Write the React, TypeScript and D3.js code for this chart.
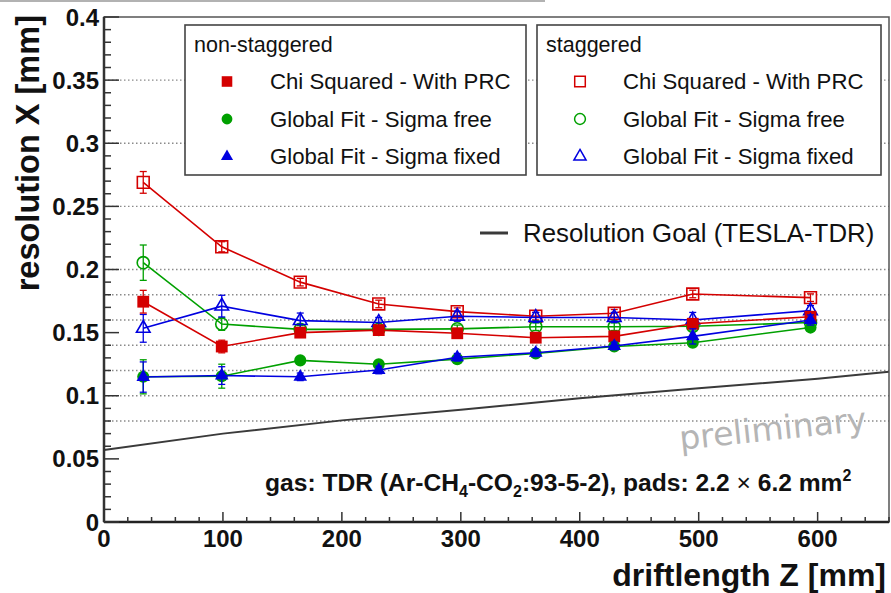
import React, { useRef, useEffect } from "react";
import { select, scaleLinear, line, symbol, symbolSquare, symbolCircle, symbolTriangle, range } from "d3";

const W = 891;
const H = 593;

// drift length positions [mm]
const driftZ = [33, 99, 165, 231, 297, 363, 429, 495, 594];

// non-staggered
const chiNonStag = [0.1745, 0.139, 0.15, 0.152, 0.1495, 0.146, 0.147, 0.157, 0.1626];
const chiNonStagErr = [0.009, 0.005, 0.003, 0.003, 0.003, 0.003, 0.003, 0.003, 0.003];
const freeNonStag = [0.115, 0.1155, 0.128, 0.125, 0.129, 0.1335, 0.139, 0.142, 0.154];
const freeNonStagErr = [0.0135, 0.0095, 0.003, 0.003, 0.003, 0.003, 0.003, 0.003, 0.003];
const fixedNonStag = [0.1148, 0.116, 0.115, 0.1204, 0.1305, 0.134, 0.1394, 0.147, 0.16];
const fixedNonStagErr = [0.012, 0.007, 0.003, 0.003, 0.003, 0.003, 0.003, 0.006, 0.004];

// staggered
const chiStag = [0.269, 0.218, 0.19, 0.1727, 0.1666, 0.163, 0.1653, 0.1806, 0.1777];
const chiStagErr = [0.0086, 0.004, 0.003, 0.003, 0.003, 0.003, 0.003, 0.003, 0.003];
const freeStag = [0.2054, 0.1568, 0.1526, 0.1526, 0.153, 0.1547, 0.1547, 0.155, 0.158];
const freeStagErr = [0.014, 0.005, 0.003, 0.003, 0.003, 0.003, 0.003, 0.003, 0.003];
const fixedStag = [0.1534, 0.171, 0.1595, 0.158, 0.163, 0.162, 0.162, 0.16, 0.1674];
const fixedStagErr = [0.011, 0.0086, 0.006, 0.004, 0.004, 0.004, 0.004, 0.006, 0.004];

// TESLA-TDR resolution goal
const goalZ = [0, 100, 200, 300, 400, 500, 600, 660];
const goalRes = [0.057, 0.07, 0.0805, 0.089, 0.098, 0.106, 0.1135, 0.119];

const xTicks = [0, 100, 200, 300, 400, 500, 600];
const yTicks = [0, 0.05, 0.1, 0.15, 0.2, 0.25, 0.3, 0.35, 0.4];
const yTickLabels = ["0", "0.05", "0.1", "0.15", "0.2", "0.25", "0.3", "0.35", "0.4"];
const gridValues = [0.08, 0.1, 0.12, 0.14, 0.16, 0.18, 0.2, 0.25, 0.3, 0.35];

const legendNames = ["Chi Squared - With PRC", "Global Fit - Sigma free", "Global Fit - Sigma fixed"];

const RED = "#d40000";
const GREEN = "#00a000";
const BLUE = "#0000e0";
const FONT = "'Liberation Sans', Arial, Helvetica, sans-serif";

const series = [
  { values: chiStag, errs: chiStagErr, color: RED, shape: symbolSquare, open: true },
  { values: freeStag, errs: freeStagErr, color: GREEN, shape: symbolCircle, open: true },
  { values: fixedStag, errs: fixedStagErr, color: BLUE, shape: symbolTriangle, open: true },
  { values: chiNonStag, errs: chiNonStagErr, color: RED, shape: symbolSquare, open: false },
  { values: freeNonStag, errs: freeNonStagErr, color: GREEN, shape: symbolCircle, open: false },
  { values: fixedNonStag, errs: fixedNonStagErr, color: BLUE, shape: symbolTriangle, open: false },
];

const markerSize = (shape, k = 1) => {
  if (shape === symbolSquare) return 140 * k;
  if (shape === symbolCircle) return 115 * k;
  return 80 * k;
};

function ResolutionChart() {
  const svgRef = useRef(null);

  useEffect(() => {
    const svg = select(svgRef.current);
    svg.selectAll("*").remove();

    const x = scaleLinear().domain([0, 660]).range([104, 889]);
    const y = scaleLinear().domain([0, 0.4]).range([522, 17]);

    // canvas border remnant on top
    svg.append("line")
      .attr("x1", 0).attr("x2", 545).attr("y1", 1).attr("y2", 1)
      .attr("stroke", "#999").attr("stroke-width", 1.5);

    // grid
    svg.append("g")
      .selectAll("line")
      .data(gridValues)
      .join("line")
      .attr("x1", x(0)).attr("x2", x(660))
      .attr("y1", d => y(d)).attr("y2", d => y(d))
      .attr("stroke", "#8a8a8a")
      .attr("stroke-width", 1.3)
      .attr("stroke-dasharray", "1.5,2.5");

    // resolution goal curve
    const goalLine = line().x(d => x(d[0])).y(d => y(d[1]));
    svg.append("path")
      .datum(goalZ.map((z, i) => [z, goalRes[i]]))
      .attr("d", goalLine)
      .attr("fill", "none")
      .attr("stroke", "#3a3a3a")
      .attr("stroke-width", 2);

    // legend boxes
    const boxes = [
      { x0: 185, x1: 526, title: "non-staggered", mx: 227, tx: 270, open: false },
      { x0: 537, x1: 881, title: "staggered", mx: 580, tx: 623, open: true },
    ];
    const rowsY = [81.5, 119, 156.5];
    boxes.forEach(b => {
      const g = svg.append("g");
      g.append("rect")
        .attr("x", b.x0).attr("y", 25)
        .attr("width", b.x1 - b.x0).attr("height", 150)
        .attr("fill", "#fff").attr("stroke", "#444").attr("stroke-width", 1.6);
      g.append("text")
        .attr("x", b.x0 + 9).attr("y", 52)
        .attr("font-family", FONT).attr("font-size", 21.5).attr("fill", "#111")
        .text(b.title);
      const items = series.filter(s => s.open === b.open);
      items.forEach((s, i) => {
        g.append("path")
          .attr("transform", `translate(${b.mx},${rowsY[i]})`)
          .attr("d", symbol(s.shape, markerSize(s.shape, 0.8))())
          .attr("fill", s.open ? "none" : s.color)
          .attr("stroke", s.color)
          .attr("stroke-width", s.open ? 1.5 : 0);
        g.append("text")
          .attr("x", b.tx).attr("y", rowsY[i] + 7.5)
          .attr("font-family", FONT).attr("font-size", 22.2).attr("fill", "#111")
          .text(legendNames[i]);
      });
    });

    // resolution goal legend
    svg.append("line")
      .attr("x1", 480).attr("x2", 508).attr("y1", 233).attr("y2", 233)
      .attr("stroke", "#3a3a3a").attr("stroke-width", 3);
    svg.append("text")
      .attr("x", 523).attr("y", 242)
      .attr("font-family", FONT).attr("font-size", 25.8).attr("fill", "#111")
      .text("Resolution Goal (TESLA-TDR)");

    // data series
    const dataLine = line().x(d => x(d[0])).y(d => y(d[1]));
    series.forEach(s => {
      const pts = driftZ.map((z, i) => [z, s.values[i], s.errs[i]]);
      const g = svg.append("g");
      g.append("path")
        .datum(pts)
        .attr("d", dataLine)
        .attr("fill", "none")
        .attr("stroke", s.color)
        .attr("stroke-width", 1.6);
      const eb = g.selectAll(".err").data(pts).join("g").attr("class", "err")
        .attr("stroke", s.color).attr("stroke-width", 1.3);
      eb.append("line")
        .attr("x1", d => x(d[0])).attr("x2", d => x(d[0]))
        .attr("y1", d => y(d[1] + d[2])).attr("y2", d => y(d[1] - d[2]));
      eb.append("line")
        .attr("x1", d => x(d[0]) - 3.5).attr("x2", d => x(d[0]) + 3.5)
        .attr("y1", d => y(d[1] + d[2])).attr("y2", d => y(d[1] + d[2]));
      eb.append("line")
        .attr("x1", d => x(d[0]) - 3.5).attr("x2", d => x(d[0]) + 3.5)
        .attr("y1", d => y(d[1] - d[2])).attr("y2", d => y(d[1] - d[2]));
      g.selectAll(".mk").data(pts).join("path").attr("class", "mk")
        .attr("transform", d => `translate(${x(d[0])},${y(d[1])})`)
        .attr("d", symbol(s.shape, markerSize(s.shape))())
        .attr("fill", s.open ? "none" : s.color)
        .attr("stroke", s.color)
        .attr("stroke-width", s.open ? 1.6 : 0);
    });

    // preliminary stamp
    svg.append("text")
      .attr("transform", "translate(774,440) rotate(-6)")
      .attr("text-anchor", "middle")
      .attr("font-family", "'DejaVu Sans', sans-serif")
      .attr("font-size", 33).attr("fill", "#b5b5b5")
      .text("preliminary");

    // gas annotation
    const gas = svg.append("text")
      .attr("x", 265).attr("y", 491)
      .attr("font-family", FONT).attr("font-size", 24.6).attr("font-weight", "bold")
      .attr("fill", "#111");
    gas.append("tspan").text("gas: TDR (Ar-CH");
    gas.append("tspan").attr("dy", 6).attr("font-size", 16).text("4");
    gas.append("tspan").attr("dy", -6).text("-CO");
    gas.append("tspan").attr("dy", 6).attr("font-size", 16).text("2");
    gas.append("tspan").attr("dy", -6).text(":93-5-2), pads: 2.2");
    gas.append("tspan").attr("font-weight", "normal").text(" \u00d7 ");
    gas.append("tspan").text("6.2 mm");
    gas.append("tspan").attr("dy", -10).attr("font-size", 16).text("2");

    // frame
    svg.append("rect")
      .attr("x", x(0)).attr("y", y(0.4))
      .attr("width", x(660) - x(0)).attr("height", y(0) - y(0.4))
      .attr("fill", "none").attr("stroke", "#555").attr("stroke-width", 1.5);
    svg.append("line")
      .attr("x1", x(0)).attr("x2", x(660)).attr("y1", y(0)).attr("y2", y(0))
      .attr("stroke", "#222").attr("stroke-width", 2.5);
    svg.append("line")
      .attr("x1", x(0)).attr("x2", x(0)).attr("y1", y(0)).attr("y2", y(0.4))
      .attr("stroke", "#333").attr("stroke-width", 2.5);

    // y ticks (inward)
    const minorY = range(0, 0.4001, 0.01);
    svg.append("g").selectAll("line").data(minorY).join("line")
      .attr("x1", x(0)).attr("x2", (d, i) => x(0) + (i % 5 === 0 ? 15 : 7))
      .attr("y1", d => y(d)).attr("y2", d => y(d))
      .attr("stroke", "#333").attr("stroke-width", 1.5);
    svg.append("g").selectAll("text").data(yTicks).join("text")
      .attr("x", 99).attr("y", d => y(d) + 8.5)
      .attr("text-anchor", "end")
      .attr("font-family", FONT).attr("font-size", 24).attr("font-weight", "bold")
      .attr("fill", "#111")
      .text((d, i) => yTickLabels[i]);

    // x ticks (upward)
    const minorX = range(0, 661, 20);
    svg.append("g").selectAll("line").data(minorX).join("line")
      .attr("x1", d => x(d)).attr("x2", d => x(d))
      .attr("y1", y(0)).attr("y2", (d) => y(0) - (d % 100 === 0 ? 10 : 5))
      .attr("stroke", "#333").attr("stroke-width", 1.5);
    svg.append("g").selectAll("text").data(xTicks).join("text")
      .attr("x", d => x(d)).attr("y", 547)
      .attr("text-anchor", "middle")
      .attr("font-family", FONT).attr("font-size", 24).attr("font-weight", "bold")
      .attr("fill", "#111")
      .text(d => d);

    // axis titles
    svg.append("text")
      .attr("x", 886).attr("y", 586)
      .attr("text-anchor", "end")
      .attr("font-family", FONT).attr("font-size", 32).attr("font-weight", "bold")
      .attr("fill", "#111")
      .text("driftlength Z [mm]");
    svg.append("text")
      .attr("transform", "translate(39,15) rotate(-90)")
      .attr("text-anchor", "end")
      .attr("font-family", FONT).attr("font-size", 32.5).attr("font-weight", "bold")
      .attr("fill", "#111")
      .text("resolution X [mm]");
  }, []);

  return (
    <svg
      ref={svgRef}
      width={W}
      height={H}
      style={{ position: "absolute", left: 0, top: 0, background: "#fff" }}
    />
  );
}

export default function App() {
  return <ResolutionChart />;
}
